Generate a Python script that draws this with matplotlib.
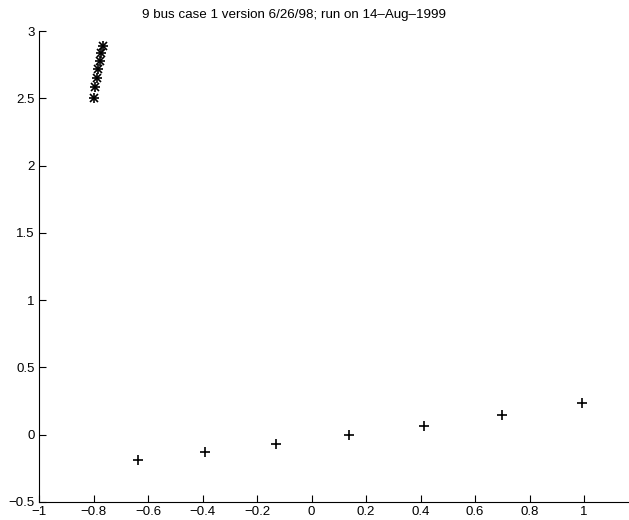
import matplotlib
matplotlib.use('Agg')
import matplotlib.pyplot as plt

plt.rcParams['font.family'] = ['Liberation Sans', 'DejaVu Sans']

# star series (upper left cluster)
star_x = [-0.797, -0.793, -0.788, -0.782, -0.777, -0.772, -0.766]
star_y = [2.503, 2.583, 2.654, 2.718, 2.780, 2.835, 2.889]

# plus series (bottom)
plus_x = [-0.636, -0.389, -0.132, 0.137, 0.413, 0.700, 0.992]
plus_y = [-0.185, -0.131, -0.070, -0.003, 0.067, 0.146, 0.235]

x_ticks = [-1, -0.8, -0.6, -0.4, -0.2, 0, 0.2, 0.4, 0.6, 0.8, 1]
x_labels = ['\u22121', '\u22120.8', '\u22120.6', '\u22120.4', '\u22120.2', '0',
            '0.2', '0.4', '0.6', '0.8', '1']
y_ticks = [-0.5, 0, 0.5, 1, 1.5, 2, 2.5, 3]
y_labels = ['\u22120.5', '0', '0.5', '1', '1.5', '2', '2.5', '3']

title = '9 bus case 1 version 6/26/98; run on 14\u2013Aug\u20131999'

W, H = 629, 520
fig = plt.figure(figsize=(W / 100, H / 100), dpi=100)
ax = fig.add_axes((39 / W, 18 / H, 599.5 / W, 471 / H))

# MATLAB '*' marker = '+' overlaid with 'x'
ax.plot(star_x, star_y, linestyle='none', marker='+', color='black',
        markersize=7, markeredgewidth=1.2)
ax.plot(star_x, star_y, linestyle='none', marker='x', color='black',
        markersize=5.5, markeredgewidth=1.2)
ax.plot(plus_x, plus_y, linestyle='none', marker='+', color='black',
        markersize=7, markeredgewidth=1.2)

ax.set_xlim(-1, 1.2)
ax.set_ylim(-0.5, 3)
ax.set_xticks(x_ticks)
ax.set_xticklabels(x_labels)
ax.set_yticks(y_ticks)
ax.set_yticklabels(y_labels)

for side in ('top', 'right'):
    ax.spines[side].set_visible(False)
for side in ('left', 'bottom'):
    ax.spines[side].set_linewidth(0.8)

ax.tick_params(direction='in', length=5, width=0.8, labelsize=9.5)
ax.tick_params(axis='x', pad=3)
ax.tick_params(axis='y', pad=3)

fig.text(294.5 / W, 1 - 15 / H, title, ha='center', va='center', fontsize=9.6)

fig.savefig('out.png', dpi=100, facecolor='white')
